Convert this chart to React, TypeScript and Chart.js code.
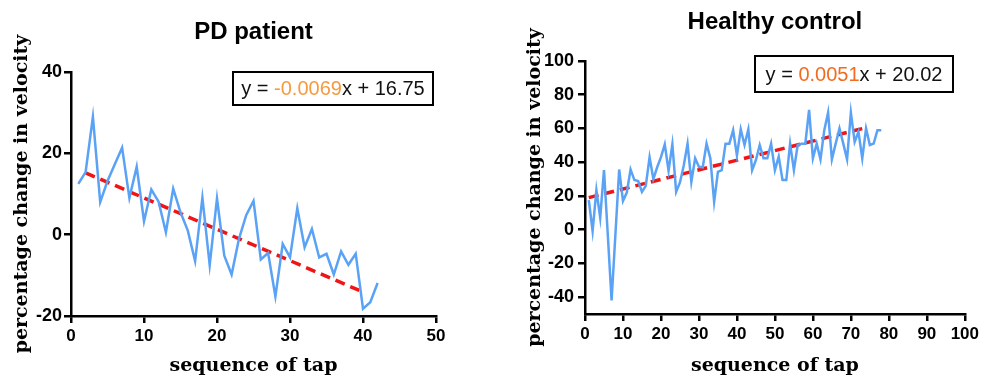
import React, { useEffect, useRef } from 'react';
import { Chart, registerables } from 'chart.js';

Chart.register(...registerables);

// ---------- data ----------
const pdVelocityChange = [
  12.5, 15.4, 29, 8, 13.2, 17.3, 21.4, 9, 16.7, 3.3,
  11.1, 8.1, 0.6, 11.3, 5.5, 1, -6.5, 9.1, -7.5, 8.9,
  -5.2, -9.8, -1.1, 4.8, 8.3, -6.1, -4.5, -15.2, -2.3, -5.6,
  6.5, -3.1, 1.4, -5.6, -4.7, -9.8, -4.1, -7.4, -4.7, -18.2,
  -16.6, -11.9,
];
const pdTrendX = [2, 40];
const pdTrendY = [15.2, -14.1];

const hcVelocityChange = [
  17.5, -0.8, 23.4, 7.1, 35.3, -3, -42, -3, 35.7, 17,
  22, 35.7, 29.4, 28.8, 22.4, 26, 42.9, 30, 37, 43,
  50.6, 34.9, 50.6, 22.4, 28, 38, 51, 28.4, 42.3, 37.3,
  37, 51, 42.3, 16.5, 34.3, 35.3, 51, 51, 59, 44,
  59.5, 50.2, 59.5, 35.3, 41.3, 50.2, 42.3, 42.3, 51, 35.3,
  43.3, 29.4, 29.4, 51, 35.3, 50.2, 51, 51, 71, 42.3,
  51, 41.7, 59, 69.4, 41.7, 51, 60, 51, 41.7, 69.4,
  52, 58, 42.3, 60, 50.2, 51, 59, 59,
];
const hcTrendX = [1, 74];
const hcTrendY = [19, 60.5];

const pdXTicks = [0, 10, 20, 30, 40, 50];
const pdYTicks = [-20, 0, 20, 40];
const hcXTicks = [0, 10, 20, 30, 40, 50, 60, 70, 80, 90, 100];
const hcYTicks = [-40, -20, 0, 20, 40, 60, 80, 100];

const pdTitle = 'PD patient';
const hcTitle = 'Healthy control';
const pdEquation = ['y = ', '-0.0069', 'x + 16.75'];
const hcEquation = ['y = ', '0.0051', 'x + 20.02'];
const yAxisTitle = 'percentage change in velocity';
const xAxisTitle = 'sequence of tap';

// ---------- styling ----------
const BLUE = '#5aa2f5';
const RED = '#f01414';
const SANS = '"Liberation Sans", Arial, sans-serif';
const SERIF = '"DejaVu Serif", serif';

const overlayPlugin = {
  id: 'overlay',
  afterDraw(chart: any, _args: any, opts: any) {
    const ctx = chart.ctx;
    const area = chart.chartArea;
    ctx.save();
    // title
    ctx.fillStyle = '#000';
    ctx.font = `bold 24px ${SANS}`;
    ctx.textAlign = 'center';
    ctx.textBaseline = 'middle';
    ctx.fillText(opts.title, (area.left + area.right) / 2, opts.titleY);
    // equation box
    const b = opts.box;
    ctx.lineWidth = 2;
    ctx.strokeStyle = '#000';
    ctx.fillStyle = '#fff';
    ctx.fillRect(b.x, b.y, b.w, b.h);
    ctx.strokeRect(b.x, b.y, b.w, b.h);
    ctx.font = `20px ${SANS}`;
    ctx.textAlign = 'left';
    const parts: string[] = opts.equation;
    const widths = parts.map((p) => ctx.measureText(p).width);
    const total = widths.reduce((a, c) => a + c, 0);
    let x = b.x + (b.w - total) / 2;
    const y = b.y + b.h / 2 + 1;
    parts.forEach((p, i) => {
      ctx.fillStyle = i === 1 ? opts.accent : '#111';
      ctx.fillText(p, x, y);
      x += widths[i];
    });
    ctx.restore();
  },
};

function buildConfig(p: any) {
  const line = p.values.map((v: number, i: number) => ({ x: i + 1, y: v }));
  const trend = p.trendX.map((x: number, i: number) => ({ x, y: p.trendY[i] }));
  const axisCommon = {
    grid: {
      drawOnChartArea: false,
      drawTicks: true,
      tickLength: 7,
      color: '#000',
      lineWidth: 2.5,
    },
    border: { color: '#000', width: 2.5 },
  };
  return {
    type: 'line',
    data: {
      datasets: [
        {
          data: line,
          borderColor: BLUE,
          borderWidth: 2.5,
          pointRadius: 0,
          tension: 0,
          fill: false,
        },
        {
          data: trend,
          borderColor: RED,
          borderWidth: 3.5,
          borderDash: [10, 6],
          pointRadius: 0,
          fill: false,
        },
      ],
    },
    options: {
      responsive: false,
      animation: false,
      events: [],
      layout: { padding: { top: p.top, right: p.right, left: 0, bottom: 0 } },
      plugins: {
        legend: { display: false },
        tooltip: { enabled: false },
        title: { display: false },
        overlay: {
          title: p.title,
          titleY: p.titleY,
          box: p.box,
          equation: p.equation,
          accent: p.accent,
        },
      },
      scales: {
        x: {
          type: 'linear',
          min: p.xTicks[0],
          max: p.xTicks[p.xTicks.length - 1],
          afterBuildTicks: (s: any) => {
            s.ticks = p.xTicks.map((v: number) => ({ value: v }));
          },
          afterFit: (s: any) => {
            s.height = p.xAxisH;
          },
          ticks: {
            color: '#000',
            font: { family: SANS, size: 17, weight: 'bold' },
            padding: 3,
            maxRotation: 0,
            autoSkip: false,
          },
          title: {
            display: true,
            text: xAxisTitle,
            color: '#000',
            font: { family: SERIF, size: 19, weight: 'bold' },
            padding: { top: 0, bottom: 2 },
          },
          ...axisCommon,
        },
        y: {
          type: 'linear',
          min: p.yMin,
          max: p.yTicks[p.yTicks.length - 1],
          afterBuildTicks: (s: any) => {
            s.ticks = p.yTicks.map((v: number) => ({ value: v }));
          },
          afterFit: (s: any) => {
            s.width = p.yAxisW;
          },
          ticks: {
            color: '#000',
            font: { family: SANS, size: 18, weight: 'bold' },
            padding: p.yTickPad,
            autoSkip: false,
          },
          title: {
            display: true,
            text: yAxisTitle,
            color: '#000',
            font: { family: SERIF, size: 19, weight: 'bold' },
            padding: { top: p.yTitlePad, bottom: 0 },
          },
          ...axisCommon,
        },
      },
    },
    plugins: [overlayPlugin],
  };
}

function Panel({ left, width, height, params }: any) {
  const ref = useRef<HTMLCanvasElement | null>(null);
  useEffect(() => {
    if (!ref.current) return;
    const chart = new Chart(ref.current, buildConfig(params) as any);
    return () => chart.destroy();
  }, []);
  return (
    <canvas
      ref={ref}
      width={width}
      height={height}
      style={{ position: 'absolute', left, top: 0, width, height }}
    />
  );
}

const pdParams = {
  values: pdVelocityChange,
  trendX: pdTrendX,
  trendY: pdTrendY,
  xTicks: pdXTicks,
  yTicks: pdYTicks,
  yMin: -20,
  title: pdTitle,
  titleY: 32,
  equation: pdEquation,
  accent: '#f59a3e',
  box: { x: 233, y: 72, w: 200, h: 33 },
  top: 72,
  right: 55,
  yAxisW: 71,
  xAxisH: 63,
  yTickPad: 2,
  yTitlePad: 11,
};

const hcParams = {
  values: hcVelocityChange,
  trendX: hcTrendX,
  trendY: hcTrendY,
  xTicks: hcXTicks,
  yTicks: hcYTicks,
  yMin: -50,
  title: hcTitle,
  titleY: 22,
  equation: hcEquation,
  accent: '#f26a1e',
  box: { x: 755 - 491, y: 56, w: 198, h: 36 },
  top: 61,
  right: 17,
  yAxisW: 94,
  xAxisH: 65,
  yTickPad: 4,
  yTitlePad: 33,
};

export default function App() {
  return (
    <div style={{ position: 'absolute', left: 0, top: 0, width: 982, height: 379, background: '#fff' }}>
      <Panel left={0} width={491} height={379} params={pdParams} />
      <Panel left={491} width={491} height={379} params={hcParams} />
    </div>
  );
}
